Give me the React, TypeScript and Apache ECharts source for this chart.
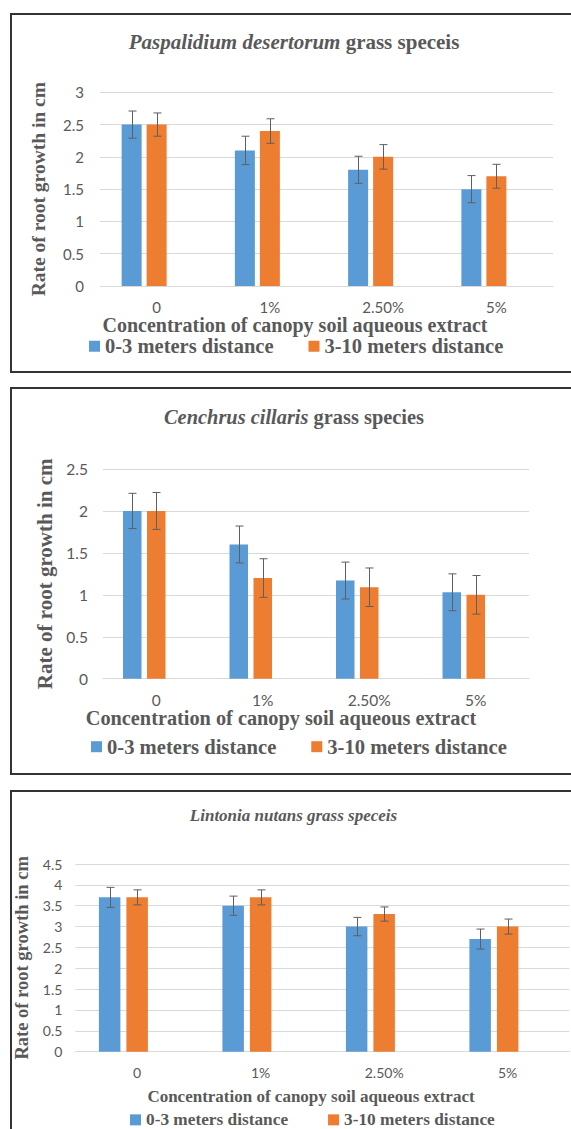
import React, { useEffect, useRef } from "react";
import * as echarts from "echarts";

// ---------- data ----------
const categories = ["0", "1%", "2.50%", "5%"];
const seriesNames = ["0-3 meters distance", "3-10 meters distance"];

const paspNear = [2.5, 2.1, 1.8, 1.5];
const paspNearErr = [0.21, 0.22, 0.21, 0.21];
const paspFar = [2.5, 2.4, 2.0, 1.7];
const paspFarErr = [0.18, 0.19, 0.19, 0.185];

const cenchNear = [2.0, 1.6, 1.17, 1.03];
const cenchNearErr = [0.21, 0.22, 0.22, 0.22];
const cenchFar = [2.0, 1.2, 1.09, 1.0];
const cenchFarErr = [0.22, 0.23, 0.23, 0.23];

const lintNear = [3.7, 3.5, 3.0, 2.7];
const lintNearErr = [0.24, 0.23, 0.22, 0.24];
const lintFar = [3.7, 3.7, 3.3, 3.0];
const lintFarErr = [0.18, 0.18, 0.17, 0.18];

const yMaxes = [3, 2.5, 4.5];
const yInterval = 0.5;

const titleItalic = ["Paspalidium desertorum", "Cenchrus cillaris", "Lintonia nutans grass speceis"];
const titleRest = [" grass speceis", " grass species", ""];
const yTitle = "Rate of root growth in cm";
const xTitle = "Concentration of canopy soil aqueous extract";

// ---------- styles / layout ----------
const BLUE = "#5B9BD5";
const ORANGE = "#ED7D31";
const GRAY = "#595959";
const GRID = "#D9D9D9";
const SERIF = "Liberation Serif";
const SANS = "Lato";

const panels = [
  {
    near: paspNear, nearErr: paspNearErr, far: paspFar, farErr: paspFarErr,
    grid: { left: 100, top: 92.3, width: 453, height: 193.7 },
    barW: 20, gapPx: 5,
    border: { x: 11, y: 14, width: 620, height: 358 },
    title: { x: 294, y: 42, size: 21 },
    xTitle: { x: 295, y: 324.5, size: 20 },
    yTitleGap: 52, yTitleSize: 19.5,
    legend: { left: 89, cy: 346, size: 20.5, gap: 35 },
    tick: 15, xLabelMargin: 13, yLabelMargin: 16,
  },
  {
    near: cenchNear, nearErr: cenchNearErr, far: cenchFar, farErr: cenchFarErr,
    grid: { left: 103, top: 469, width: 426, height: 209.7 },
    barW: 18.5, gapPx: 5.5,
    border: { x: 11, y: 388, width: 620, height: 386 },
    title: { x: 294, y: 416.7, size: 20.4 },
    xTitle: { x: 281, y: 718, size: 20.3 },
    yTitleGap: 47, yTitleSize: 21,
    legend: { left: 91, cy: 746.5, size: 20.6, gap: 35 },
    tick: 15.5, xLabelMargin: 13, yLabelMargin: 15,
  },
  {
    near: lintNear, nearErr: lintNearErr, far: lintFar, farErr: lintFarErr,
    grid: { left: 75.4, top: 864, width: 494, height: 187.7 },
    barW: 21.5, gapPx: 6,
    border: { x: 11, y: 791, width: 620, height: 400 },
    title: { x: 293.5, y: 815, size: 17 },
    xTitle: { x: 311, y: 1096.7, size: 17 },
    yTitleGap: 43, yTitleSize: 18.5,
    legend: { left: 130, cy: 1120, size: 17.3, gap: 40 },
    tick: 14, xLabelMargin: 14, yLabelMargin: 13,
  },
];

function errRenderer(offset: number, cap: number) {
  return (params: any, api: any) => {
    const x = api.value(0);
    const lo = api.value(1);
    const hi = api.value(2);
    const pLo = api.coord([x, lo]);
    const pHi = api.coord([x, hi]);
    const cx = Math.round(pLo[0] + offset) + 0.5;
    const st = { stroke: "#5f5f5f", lineWidth: 1 };
    return {
      type: "group",
      children: [
        { type: "line", shape: { x1: cx, y1: pHi[1], x2: cx, y2: pLo[1] }, style: st },
        { type: "line", shape: { x1: cx - cap, y1: pHi[1], x2: cx + cap, y2: pHi[1] }, style: st },
        { type: "line", shape: { x1: cx - cap, y1: pLo[1], x2: cx + cap, y2: pLo[1] }, style: st },
      ],
    };
  };
}

function buildOption() {
  const grid: any[] = [];
  const xAxis: any[] = [];
  const yAxis: any[] = [];
  const series: any[] = [];
  const legend: any[] = [];
  const graphic: any[] = [];

  panels.forEach((p, k) => {
    grid.push({ ...p.grid, containLabel: false });
    xAxis.push({
      type: "category",
      gridIndex: k,
      data: categories,
      axisLine: { show: true, lineStyle: { color: GRID, width: 1 } },
      axisTick: { show: false },
      axisLabel: { color: GRAY, fontFamily: SANS, fontSize: p.tick, margin: p.xLabelMargin },
      splitLine: { show: false },
    });
    yAxis.push({
      type: "value",
      gridIndex: k,
      min: 0,
      max: yMaxes[k],
      interval: yInterval,
      name: yTitle,
      nameLocation: "middle",
      nameRotate: 90,
      nameGap: p.yTitleGap,
      nameTextStyle: { fontFamily: SERIF, fontWeight: "bold", fontSize: p.yTitleSize, color: GRAY },
      axisLine: { show: false },
      axisTick: { show: false },
      axisLabel: { color: GRAY, fontFamily: SANS, fontSize: p.tick, margin: p.yLabelMargin },
      splitLine: { show: true, lineStyle: { color: GRID, width: 1 } },
    });

    const gapPct = ((p.gapPx / p.barW) * 100).toFixed(1) + "%";
    const barCommon = {
      type: "bar",
      xAxisIndex: k,
      yAxisIndex: k,
      barWidth: p.barW,
      barGap: gapPct,
    };
    series.push({ ...barCommon, name: seriesNames[0], data: p.near, itemStyle: { color: BLUE } });
    series.push({ ...barCommon, name: seriesNames[1], data: p.far, itemStyle: { color: ORANGE } });
    // empty third series (as in the original spreadsheet layout)
    series.push({ ...barCommon, name: "empty", data: categories.map(() => "-"), itemStyle: { color: "transparent" } });

    const total = 3 * p.barW + 2 * p.gapPx;
    const offs = [0, 1].map((i) => -total / 2 + p.barW / 2 + i * (p.barW + p.gapPx));
    const groups = [
      { v: p.near, e: p.nearErr },
      { v: p.far, e: p.farErr },
    ];
    groups.forEach((g, i) => {
      series.push({
        type: "custom",
        name: seriesNames[i] + " error",
        xAxisIndex: k,
        yAxisIndex: k,
        z: 5,
        silent: true,
        renderItem: errRenderer(offs[i], 4),
        encode: { x: 0, y: [1, 2] },
        data: g.v.map((v, j) => [j, v - g.e[j], v + g.e[j]]),
      });
    });

    legend.push({
      data: seriesNames,
      left: p.legend.left,
      top: p.legend.cy - p.legend.size / 2,
      padding: 0,
      itemWidth: 11,
      itemHeight: 11,
      itemGap: p.legend.gap,
      icon: "rect",
      selectedMode: false,
      textStyle: { fontFamily: SERIF, fontWeight: "bold", fontSize: p.legend.size, color: GRAY },
    });

    graphic.push({
      type: "rect",
      shape: p.border,
      style: { fill: "none", stroke: "#333333", lineWidth: 2 },
      silent: true,
    });
    graphic.push({
      type: "text",
      x: p.title.x,
      y: p.title.y,
      style: {
        text: `{i|${titleItalic[k]}}{b|${titleRest[k]}}`,
        align: "center",
        verticalAlign: "middle",
        rich: {
          i: { fontFamily: SERIF, fontStyle: "italic", fontWeight: "bold", fontSize: p.title.size, fill: GRAY, color: GRAY },
          b: { fontFamily: SERIF, fontWeight: "bold", fontSize: p.title.size, fill: GRAY, color: GRAY },
        },
      },
    });
    graphic.push({
      type: "text",
      x: p.xTitle.x,
      y: p.xTitle.y,
      style: {
        text: xTitle,
        align: "center",
        verticalAlign: "middle",
        fontFamily: SERIF,
        fontWeight: "bold",
        fontSize: p.xTitle.size,
        fill: GRAY,
      },
    });
  });

  return {
    animation: false,
    backgroundColor: "#ffffff",
    grid,
    xAxis,
    yAxis,
    series,
    legend,
    graphic,
  };
}

export default function App() {
  const ref = useRef<HTMLDivElement>(null);
  useEffect(() => {
    document.body.style.margin = "0";
    if (!ref.current) return;
    const chart = echarts.init(ref.current, undefined, { renderer: "svg" });
    chart.setOption(buildOption() as any);
    return () => {
      chart.dispose();
    };
  }, []);
  return <div ref={ref} style={{ width: 571, height: 1129 }} />;
}
